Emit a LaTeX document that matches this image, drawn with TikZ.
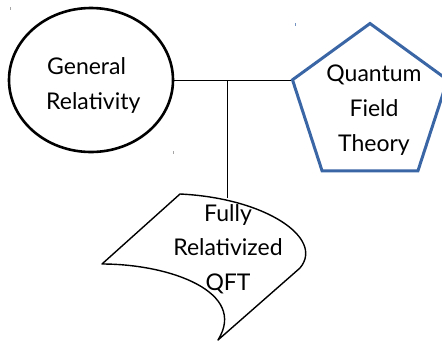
\documentclass[tikz,border=0pt]{standalone}
\usepackage{fontspec}
\setmainfont{Lato}
\usetikzlibrary{shapes.geometric}
\definecolor{qblue}{RGB}{58,102,166}
\tikzset{
  lbl/.style={font=\fontsize{23}{28}\selectfont, inner sep=0pt, text=black},
  thick line/.style={line width=2.6pt},
  link/.style={line width=0.9pt, black},
  tick/.style={line width=0.9pt, gray!70}
}
\begin{document}
\begin{tikzpicture}[x=1pt,y=-1pt]
\useasboundingbox (0,0) rectangle (442,341);
% General Relativity ellipse
\node[ellipse, draw, thick line, minimum width=164pt, minimum height=144pt, inner sep=0pt] (gr) at (91,80) {};
\node[lbl, anchor=base west] (gr1) at (47,74) {General};
\node[lbl, anchor=base west] (gr2) at (46,109) {Relativity};
% Quantum Field Theory pentagon
\node[regular polygon, regular polygon sides=5, draw=qblue, line width=3pt, minimum size=163pt, inner sep=0pt] (qft) at (370,105) {};
\node[lbl, anchor=base] (q1) at (374,81) {Quantum};
\node[lbl, anchor=base] (q2) at (374,116) {Field};
\node[lbl, anchor=base] (q3) at (374,151) {Theory};
% tape shape
\coordinate (ta) at (180,194);
\coordinate (tb) at (300,268);
\coordinate (tc) at (218,340);
\coordinate (td) at (102,264);
\draw[line width=1.4pt, line join=round] (ta) .. controls (265,198) and (325,238) .. (tb) -- (tc)
  .. controls (248,292) and (170,264) .. (td) -- cycle;
\coordinate (top) at (227,197.5);
\node[lbl, anchor=base] (f1) at (228,221) {Fully};
\node[lbl, anchor=base] (f2) at (228,255) {Relativized};
\node[lbl, anchor=base] (f3) at (228,290) {QFT};
% connectors
\coordinate (j) at (227,80);
\draw[link] (gr.east) -- (qft.corner 2 |- gr.east);
\draw[link] (j) -- (top);
% small marks
\draw[tick] (10,7) -- (10,9.5);
\draw[tick, qblue!70] (295,23) -- (295,25.5);
\draw[tick] (173,151) -- (173,153.5);
\end{tikzpicture}
\end{document}
